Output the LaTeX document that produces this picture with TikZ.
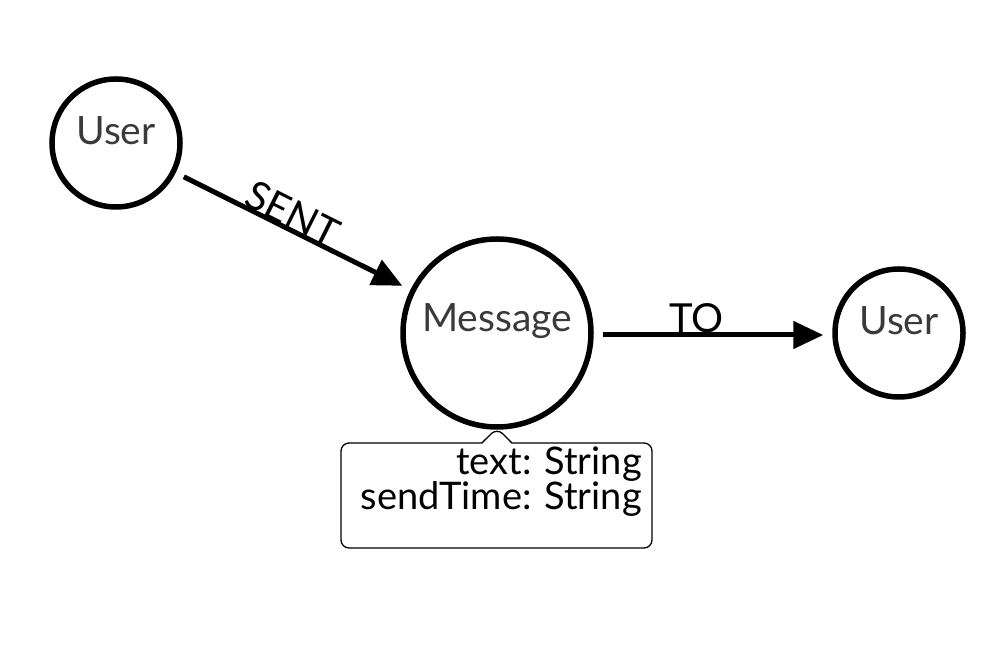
\documentclass[tikz,border=0pt]{standalone}
\usepackage{fontspec}
\setmainfont{Lato}
\usetikzlibrary{arrows.meta,shapes.callouts}
\definecolor{labelgray}{HTML}{3A3A3A}
\tikzset{
  entity/.style={circle, draw=black, line width=5.5pt, inner sep=0pt},
  small/.style={entity, minimum size=128pt},
  big/.style={entity, minimum size=188pt},
  nodetext/.style={text=labelgray, font=\fontsize{39}{44}\selectfont},
  rel/.style={line width=5pt, -{Triangle[length=30pt,width=27pt]}, shorten <=9pt, shorten >=9pt},
  rellabel/.style={font=\fontsize{40}{44}\selectfont, anchor=base, inner sep=0pt},
  attrtext/.style={font=\fontsize{38}{42}\selectfont, anchor=base east, inner sep=0pt}
}
\begin{document}
\begin{tikzpicture}[x=1pt,y=1pt]
\useasboundingbox (0,0) rectangle (998,655);
\fill[white] (0,0) rectangle (998,655);
\node[small, label={[nodetext, yshift=12pt]center:User}] (u1) at (116,512) {};
\node[big, label={[nodetext, yshift=12pt]center:Message}] (msg) at (497,322) {};
\node[small, label={[nodetext, yshift=12pt]center:User}] (u2) at (899,322) {};
\draw[rel] (u1) -- node[rellabel, sloped, pos=0.47, yshift=1pt] {SENT} (msg);
\draw[rel] ([yshift=-2pt]msg.east) -- node[rellabel, pos=0.43, yshift=2pt] {TO} ([yshift=-2pt]u2.west);
\node[rectangle callout, draw=black, line width=1.3pt, rounded corners=8pt,
      minimum width=311pt, minimum height=105pt, inner sep=0pt,
      callout absolute pointer={(497,227)}, callout pointer width=30pt] (box) at (496.5,159.5) {};
\node[attrtext] (t1) at (642,180) {text: String};
\node[attrtext] (t2) at (642,145) {sendTime: String};
\end{tikzpicture}
\end{document}
